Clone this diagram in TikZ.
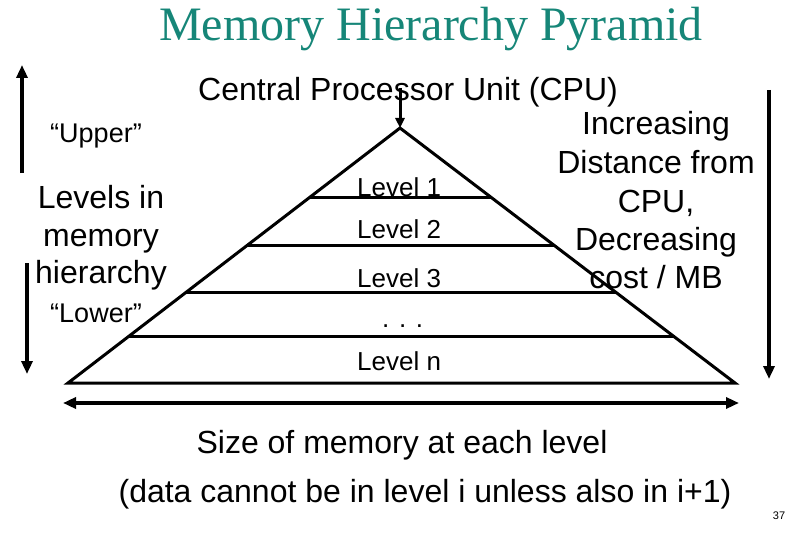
\documentclass[tikz,border=0pt]{standalone}
\usepackage{fontspec}
\setmainfont{Liberation Sans}
\newfontfamily\titlefont{Liberation Serif}
\usetikzlibrary{arrows.meta,calc}
\definecolor{titleteal}{RGB}{22,134,120}
\tikzset{
  txt/.style={inner sep=0pt, anchor=base, font=\fontsize{32}{38}\selectfont},
  smalltxt/.style={inner sep=0pt, anchor=base, font=\fontsize{27}{32}\selectfont},
  lvltxt/.style={inner sep=0pt, anchor=base west, font=\fontsize{26}{30}\selectfont},
  pyr/.style={line width=3pt, line join=miter},
  lvl/.style={line width=3pt},
  arr/.style={line width=3.5pt, -{Triangle[length=13pt,width=11pt]}},
  darr/.style={line width=3.5pt, {Triangle[length=13pt,width=11pt]}-{Triangle[length=13pt,width=11pt]}}
}
\begin{document}
\begin{tikzpicture}[x=1pt,y=-1pt]
\useasboundingbox[fill=white] (0,0) rectangle (810,540);
% title
\node[inner sep=0pt, anchor=base, text=titleteal, font=\titlefont\fontsize{48}{56}\selectfont] (title) at (431,41) {Memory Hierarchy Pyramid};
% pyramid
\coordinate (A) at (400,128);
\coordinate (BL) at (68,383);
\coordinate (BR) at (735,383);
\draw[pyr] (BL) -- (A) -- (BR) -- cycle;
\foreach \t/\n in {0.2706/1,0.4627/2,0.647/3,0.8157/4}{
  \coordinate (L\n) at ($(A)!\t!(BL)$);
  \coordinate (R\n) at ($(A)!\t!(BR)$);
  \draw[lvl] (L\n) -- (R\n);
}
% CPU
\node[txt] (cpu) at (408,101) {Central Processor Unit (CPU)};
\coordinate (cpuT) at (400,88);
\draw[line width=3pt, -{Triangle[length=10pt,width=9pt]}] (cpuT) -- (A);
% level labels
\node[lvltxt] (lv1) at (357,196) {Level 1};
\node[lvltxt] (lv2) at (357,238) {Level 2};
\node[lvltxt] (lv3) at (357,287) {Level 3};
\node[lvltxt] (lvd) at (382,327) {. . .};
\node[lvltxt] (lvn) at (357,370) {Level n};
% left side
\node[smalltxt] (upper) at (96,143) {“Upper”};
\node[txt] (lv-a) at (101,208) {Levels in};
\node[txt] (lv-b) at (101,246) {memory};
\node[txt] (lv-c) at (101,283) {hierarchy};
\node[smalltxt] (lower) at (96,322) {“Lower”};
\coordinate (u1) at (22,173);
\coordinate (u2) at (22,65);
\draw[arr] (u1) -- (u2);
\coordinate (d1) at (27,263);
\coordinate (d2) at (27,374);
\draw[arr] (d1) -- (d2);
% right side
\node[txt] (r1) at (656,135) {Increasing};
\node[txt] (r2) at (656,173) {Distance from};
\node[txt] (r3) at (656,212) {CPU,};
\node[txt] (r4) at (656,250) {Decreasing};
\node[txt] (r5) at (656,288) {cost / MB};
\coordinate (ra1) at (769,90);
\coordinate (ra2) at (769,379);
\draw[arr] (ra1) -- (ra2);
% bottom
\coordinate (b1) at (63,403);
\coordinate (b2) at (739,403);
\draw[darr] (b1) -- (b2);
\node[txt] (s1) at (402,453) {Size of memory at each level};
\node[txt] (s2) at (425,502) {(data cannot be in level i unless also in i+1)};
\node[inner sep=0pt, anchor=base, font=\fontsize{11}{13}\selectfont] (pg) at (779,519) {37};
\end{tikzpicture}
\end{document}
